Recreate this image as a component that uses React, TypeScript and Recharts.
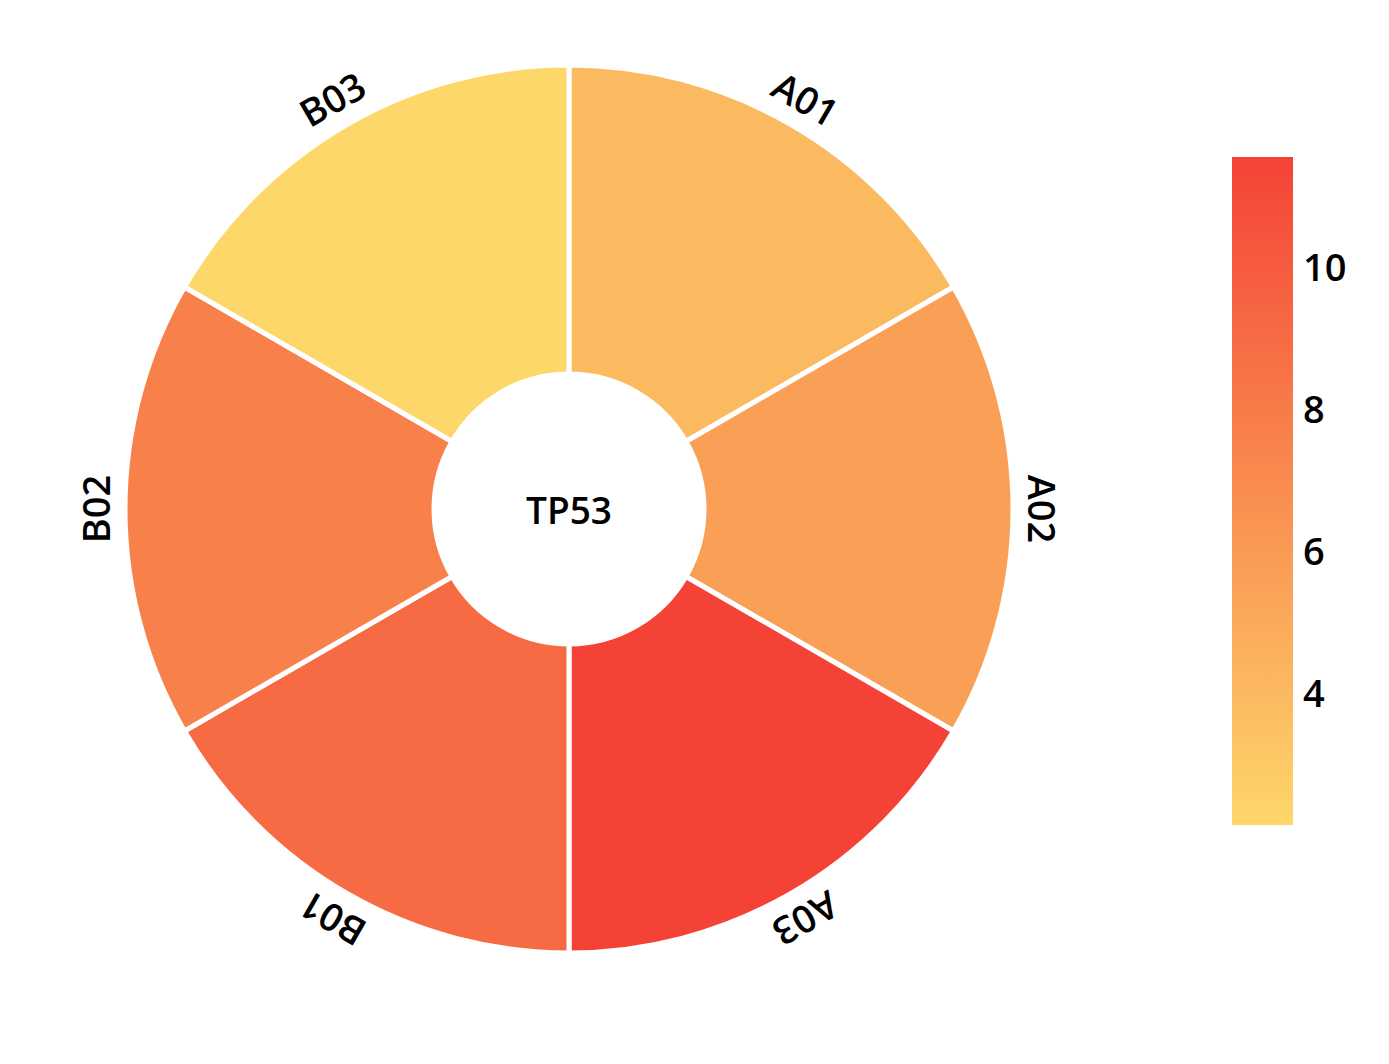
import React from 'react';
import { PieChart, Pie, Cell, BarChart, Bar, XAxis, YAxis } from 'recharts';

// Data
const categories = ['A01', 'A02', 'A03', 'B01', 'B02', 'B03'];
const values = [4.0, 5.73, 11.56, 9.02, 7.7, 2.15];
const colorbarTicks = [4, 6, 8, 10];
const centerLabel = 'TP53';

const LOW = [254, 215, 106];
const HIGH = [244, 67, 54];
const vMin = Math.min(...values);
const vMax = Math.max(...values);

const toHex = (n: number) => Math.round(n).toString(16).padStart(2, '0');
const colorFor = (v: number) => {
  const t = (v - vMin) / (vMax - vMin);
  return '#' + LOW.map((l, i) => toHex(l + (HIGH[i] - l) * t)).join('');
};
const lowHex = '#' + LOW.map(toHex).join('');
const highHex = '#' + HIGH.map(toHex).join('');

const pieData = categories.map((c, i) => ({ name: c, size: 1, value: values[i] }));
const cbData = [{ name: 'cb', range: [vMin, vMax] }];

const FONT = '"Open Sans", "Noto Sans", sans-serif';
const WEIGHT = 600;
const RAD = Math.PI / 180;
const LABEL_R = 474;

const renderLabel = (props: any) => {
  const { cx, cy, midAngle, name, index } = props;
  const x = cx + LABEL_R * Math.cos(-midAngle * RAD);
  const y = cy + LABEL_R * Math.sin(-midAngle * RAD);
  const rot = 90 - midAngle;
  return (
    <g key={`lbl-${index}`}>
      <text
        x={x}
        y={y}
        textAnchor="middle"
        dominantBaseline="central"
        transform={`rotate(${rot}, ${x}, ${y})`}
        fill="#000"
        fontSize={38}
        fontWeight={WEIGHT}
        fontFamily={FONT}
      >
        {name}
      </text>
      {index === 0 ? (
        <text
          x={cx}
          y={cy}
          textAnchor="middle"
          dominantBaseline="central"
          fill="#000"
          fontSize={37}
          fontWeight={WEIGHT}
          fontFamily={FONT}
        >
          {centerLabel}
        </text>
      ) : null}
    </g>
  );
};

export default function App() {
  return (
    <div style={{ position: 'absolute', left: 0, top: 0, width: 1389, height: 1064, background: '#fff' }}>
      <div style={{ position: 'absolute', left: 0, top: 0 }}>
        <PieChart width={1150} height={1064} margin={{ top: 0, right: 0, bottom: 0, left: 0 }}>
          <Pie
            data={pieData}
            dataKey="size"
            nameKey="name"
            cx={569}
            cy={509}
            innerRadius={135}
            outerRadius={444}
            startAngle={90}
            endAngle={-270}
            stroke="#fff"
            strokeWidth={5}
            label={renderLabel}
            labelLine={false}
            isAnimationActive={false}
          >
            {pieData.map((d) => (
              <Cell key={d.name} fill={colorFor(d.value)} />
            ))}
          </Pie>
        </PieChart>
      </div>
      <div style={{ position: 'absolute', left: 1232, top: 157 }}>
        <BarChart
          width={157}
          height={668}
          data={cbData}
          margin={{ top: 0, right: 0, bottom: 0, left: 0 }}
          barCategoryGap={0}
        >
          <defs>
            <linearGradient id="cbGrad" x1="0" y1="0" x2="0" y2="1">
              <stop offset="0%" stopColor={highHex} />
              <stop offset="100%" stopColor={lowHex} />
            </linearGradient>
          </defs>
          <XAxis dataKey="name" hide />
          <YAxis
            orientation="right"
            width={96}
            domain={[vMin, vMax]}
            ticks={colorbarTicks}
            axisLine={false}
            tickLine={false}
            tickMargin={4}
            tick={{ fontSize: 38, fontFamily: FONT, fontWeight: WEIGHT, fill: '#000' }}
            type="number"
            allowDataOverflow
          />
          <Bar dataKey="range" fill="url(#cbGrad)" isAnimationActive={false} />
        </BarChart>
      </div>
    </div>
  );
}
